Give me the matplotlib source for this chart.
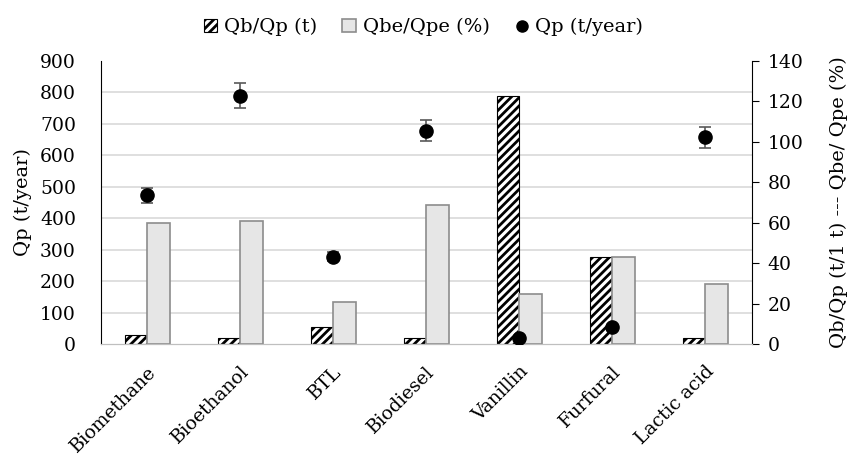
import numpy as np
import matplotlib.pyplot as plt
import matplotlib.transforms as mtransforms
from matplotlib.patches import Patch
from matplotlib.lines import Line2D

plt.rcParams['font.family'] = ['DejaVu Serif']
plt.rcParams['hatch.linewidth'] = 2.0

products = ["Biomethane", "Bioethanol", "BTL", "Biodiesel", "Vanillin", "Furfural", "Lactic acid"]
qb_qp = [4.6, 2.8, 8.3, 3.1, 122.9, 43.2, 3.1]          # t per 1 t product (right axis)
qbe_qpe = [60.0, 60.9, 20.9, 68.8, 24.7, 43.2, 29.5]    # % (right axis)
qp = [473, 790, 278, 678, 18, 53, 657]                  # t/year (left axis)
qp_err = [24, 40, 14, 34, 1, 3, 33]

x = np.arange(len(products))
w = 0.24

fig = plt.figure(figsize=(8.52, 4.55), dpi=100)
ax = fig.add_axes([0.1185, 0.244, 0.7641, 0.622])
ax2 = ax.twinx()

# bars live on the twin (right scale), dots on the main axes drawn on top
ax.set_zorder(ax2.get_zorder() + 1)
ax.patch.set_visible(False)

ax2.bar(x - w / 2, qb_qp, w, color='white', edgecolor='black', hatch='////', linewidth=0.8, zorder=2)
ax2.bar(x + w / 2, qbe_qpe, w, color='#e6e6e6', edgecolor='#8c8c8c', linewidth=1.2, zorder=2)

ax.errorbar(x, qp, yerr=qp_err, fmt='o', color='black', markersize=9.5,
            ecolor='#595959', elinewidth=1.2, capsize=4, capthick=1.2, zorder=3)

ax.set_ylim(0, 900)
ax.set_yticks(np.arange(0, 901, 100))
ax2.set_ylim(0, 140)
ax2.set_yticks(np.arange(0, 141, 20))
ax.set_xlim(-0.5, len(products) - 0.5)

# horizontal grid at the left-axis steps, kept behind the bars
ax2.set_yticks(np.linspace(0, 140, 10), minor=True)
ax2.grid(which='minor', axis='y', color='#d9d9d9', linewidth=1.2, zorder=0)
ax2.tick_params(axis='y', which='minor', length=0)
ax2.set_axisbelow(True)

for a in (ax, ax2):
    a.spines['top'].set_visible(False)
ax.spines['left'].set_color('black')
ax.spines['right'].set_visible(False)
ax2.spines['left'].set_visible(False)
ax2.spines['right'].set_color('black')
ax.spines['bottom'].set_color('#bfbfbf')
ax2.spines['bottom'].set_color('#bfbfbf')

ax.tick_params(axis='y', length=0, labelsize=13.5, pad=18)
ax2.tick_params(axis='y', which='major', length=5, direction='out', labelsize=13.5, pad=6)
ax.tick_params(axis='x', length=0, pad=18)

ax.set_xticks(x)
ax.set_xticklabels(products, rotation=45, ha='right', va='center', rotation_mode='anchor',
                   fontsize=13.5)
shift = mtransforms.ScaledTranslation(4 / 72, 0, fig.dpi_scale_trans)
for lbl in ax.get_xticklabels():
    lbl.set_transform(lbl.get_transform() + shift)

ax.set_ylabel("Qp (t/year)", fontsize=14, labelpad=6)
ax2.set_ylabel("Qb/Qp (t/1 t) --- Qbe/ Qpe (%)", fontsize=14, labelpad=19)

handles = [
    Patch(facecolor='white', edgecolor='black', hatch='////', linewidth=0.8),
    Patch(facecolor='#e6e6e6', edgecolor='#8c8c8c', linewidth=1.2),
    Line2D([], [], marker='o', color='black', linestyle='none', markersize=8),
]
fig.legend(handles, ["Qb/Qp (t)", "Qbe/Qpe (%)", "Qp (t/year)"], loc='center',
           bbox_to_anchor=(0.497, 0.94), ncol=3, frameon=False, fontsize=14,
           handlelength=0.7, handleheight=0.7, handletextpad=0.35, columnspacing=1.3)

fig.savefig("out.png", dpi=100)
